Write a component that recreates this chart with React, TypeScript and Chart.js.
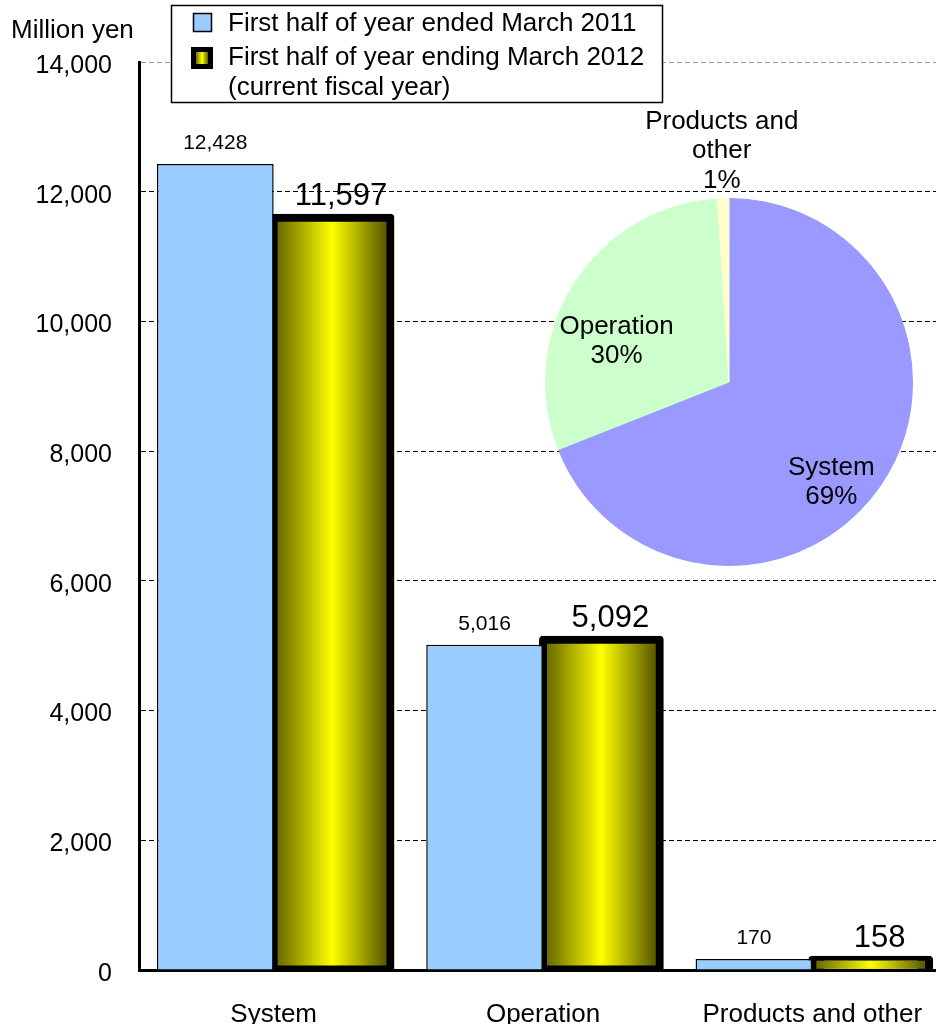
import React, { useEffect, useRef } from 'react';
import { Chart, registerables } from 'chart.js';

Chart.register(...registerables);

// ---- data ----
const categories = ['System', 'Operation', 'Products and other'];
const seriesPrevName = 'First half of year ended March 2011';
const seriesCurrNameLines = ['First half of year ending March 2012', '(current fiscal year)'];
const prevYear = [12428, 5016, 170];
const currYear = [11597, 5092, 158];
const yMin = 0;
const yMax = 14000;
const yStep = 2000;
const yAxisTitle = 'Million yen';
const pieLabelLines = [['System'], ['Operation'], ['Products and', 'other']];
const pieShares = [69, 30, 1];

// ---- styles ----
const FONT = '"Liberation Sans", Arial, Helvetica, sans-serif';
const BLUE = '#99CCFF';
const PIE_COLORS = ['#9999FF', '#CCFFCC', '#FFFFCC'];
const CAT_PCT = 0.867;

function yellowGradient(ctx: CanvasRenderingContext2D, left: number, right: number) {
  if (!Number.isFinite(left) || !Number.isFinite(right) || right <= left) return '#ffff00';
  const g = ctx.createLinearGradient(left, 0, right, 0);
  g.addColorStop(0, '#6e6e00');
  g.addColorStop(0.5, '#ffff00');
  g.addColorStop(1, '#5e5e00');
  return g;
}

export default function App() {
  const mainRef = useRef<HTMLCanvasElement>(null);
  const pieRef = useRef<HTMLCanvasElement>(null);

  useEffect(() => {
    document.body.style.margin = '0';
    const mainCanvas = mainRef.current!;
    const pieCanvas = pieRef.current!;

    const labelPlugin = {
      id: 'barLabels',
      afterDatasetsDraw(chart: any) {
        const ctx = chart.ctx as CanvasRenderingContext2D;
        ctx.save();
        ctx.fillStyle = '#000';
        ctx.textAlign = 'center';
        ctx.textBaseline = 'alphabetic';
        chart.data.datasets.forEach((ds: any, di: number) => {
          const meta = chart.getDatasetMeta(di);
          meta.data.forEach((el: any, i: number) => {
            const txt = Number(ds.data[i]).toLocaleString('en-US');
            if (di === 0) {
              ctx.font = `21px ${FONT}`;
              ctx.fillText(txt, el.x, el.y - 15);
            } else {
              ctx.font = `31px ${FONT}`;
              ctx.fillText(txt, el.x + 9, el.y - 13);
            }
          });
        });
        ctx.restore();
      },
      afterDraw(chart: any) {
        const ctx = chart.ctx as CanvasRenderingContext2D;
        ctx.save();
        // axis title
        ctx.fillStyle = '#000';
        ctx.font = `26px ${FONT}`;
        ctx.textAlign = 'left';
        ctx.textBaseline = 'middle';
        ctx.fillText(yAxisTitle, 11, 31);
        // legend box
        ctx.fillStyle = '#fff';
        ctx.fillRect(171, 5, 492, 98);
        ctx.strokeStyle = '#000';
        ctx.lineWidth = 1.5;
        ctx.strokeRect(171.5, 5.5, 491, 97);
        // swatch 1
        ctx.fillStyle = BLUE;
        ctx.fillRect(193, 13, 19, 19);
        ctx.lineWidth = 1.5;
        ctx.strokeRect(193.5, 13.5, 18, 18);
        // swatch 2
        ctx.fillStyle = '#000';
        ctx.fillRect(191, 47, 22, 22);
        ctx.fillStyle = yellowGradient(ctx, 196, 208);
        ctx.fillRect(196, 52, 12, 12);
        // texts
        ctx.fillStyle = '#000';
        ctx.font = `26px ${FONT}`;
        ctx.textBaseline = 'middle';
        ctx.fillText(seriesPrevName, 228, 24);
        ctx.fillText(seriesCurrNameLines[0], 228, 58);
        ctx.fillText(seriesCurrNameLines[1], 228, 88);
        ctx.restore();
      },
    };

    const main = new Chart(mainCanvas, {
      type: 'bar',
      data: {
        labels: categories,
        datasets: [
          {
            label: seriesPrevName,
            data: prevYear,
            backgroundColor: BLUE,
            borderColor: '#000',
            borderWidth: 1.5,
            categoryPercentage: CAT_PCT,
            barPercentage: 1,
          },
          {
            label: seriesCurrNameLines.join(' '),
            data: currYear,
            backgroundColor: (c: any) => {
              const chart = c.chart;
              const xs = chart.scales && chart.scales.x;
              if (!xs || c.dataIndex === undefined || !xs.width) return '#ffff00';
              const center = xs.getPixelForValue(c.dataIndex);
              const w = (xs.width / categories.length) * CAT_PCT / 2;
              return yellowGradient(chart.ctx, center + 6, center + w - 6);
            },
            borderColor: '#000',
            borderWidth: 8,
            borderSkipped: false,
            borderRadius: 4,
            inflateAmount: 4,
            categoryPercentage: CAT_PCT,
            barPercentage: 1,
          } as any,
        ],
      },
      options: {
        responsive: false,
        animation: false,
        devicePixelRatio: 1,
        layout: { padding: { left: 0, right: 13, top: 62, bottom: 0 } },
        plugins: { legend: { display: false }, tooltip: { enabled: false } },
        scales: {
          x: {
            z: 1,
            grid: { display: false },
            border: { color: '#000', width: 3 },
            ticks: {
              color: '#000',
              font: { family: FONT, size: 26 },
              padding: 21,
              maxRotation: 0,
              autoSkip: false,
            },
            afterFit: (s: any) => {
              s.height = 54;
            },
          },
          y: {
            min: yMin,
            max: yMax,
            ticks: {
              stepSize: yStep,
              color: '#000',
              font: { family: FONT, size: 25 },
              padding: 27,
              labelOffset: 4,
              callback: (v: any) => Number(v).toLocaleString('en-US'),
            },
            grid: {
              color: (c: any) => (c.tick && c.tick.value === yMax ? '#999' : '#000'),
              lineWidth: 1,
              drawTicks: false,
            },
            border: { color: '#000', width: 3, dash: [5, 3] },
            afterFit: (s: any) => {
              s.width = 139;
            },
          },
        },
      } as any,
      plugins: [labelPlugin],
    });

    const pieLabelPlugin = {
      id: 'pieLabels',
      afterDatasetsDraw(chart: any) {
        const ctx = chart.ctx as CanvasRenderingContext2D;
        const meta = chart.getDatasetMeta(0);
        ctx.save();
        ctx.fillStyle = '#000';
        ctx.font = `26px ${FONT}`;
        ctx.textAlign = 'center';
        ctx.textBaseline = 'middle';
        meta.data.forEach((arc: any, i: number) => {
          const mid = (arc.startAngle + arc.endAngle) / 2;
          const share = pieShares[i];
          const outside = share < 5;
          const dist = outside ? arc.outerRadius * 1.26 : arc.outerRadius * 0.7;
          const cx = arc.x + Math.cos(mid) * dist - (outside ? 0 : 4);
          const cy = arc.y + Math.sin(mid) * dist + (outside ? 0 : 28);
          const lines = [...pieLabelLines[i], `${share}%`];
          const lh = 29.5;
          const y0 = cy - ((lines.length - 1) * lh) / 2;
          lines.forEach((t, k) => ctx.fillText(t, cx, y0 + k * lh));
        });
        ctx.restore();
      },
    };

    const pie = new Chart(pieCanvas, {
      type: 'pie',
      data: {
        labels: categories,
        datasets: [
          {
            data: pieShares,
            backgroundColor: PIE_COLORS,
            borderColor: PIE_COLORS,
            borderWidth: 1,
          },
        ],
      },
      options: {
        responsive: false,
        animation: false,
        devicePixelRatio: 1,
        layout: { padding: { left: 25, right: 23, top: 98, bottom: 14 } },
        plugins: { legend: { display: false }, tooltip: { enabled: false } },
      } as any,
      plugins: [pieLabelPlugin],
    });

    return () => {
      main.destroy();
      pie.destroy();
    };
  }, []);

  return (
    <div style={{ position: 'relative', width: 936, height: 1024, overflow: 'hidden', background: '#fff' }}>
      <canvas
        ref={mainRef}
        width={960}
        height={1024}
        style={{ position: 'absolute', left: 0, top: 0, width: 960, height: 1024 }}
      />
      <canvas
        ref={pieRef}
        width={416}
        height={480}
        style={{ position: 'absolute', left: 520, top: 100, width: 416, height: 480 }}
      />
    </div>
  );
}
